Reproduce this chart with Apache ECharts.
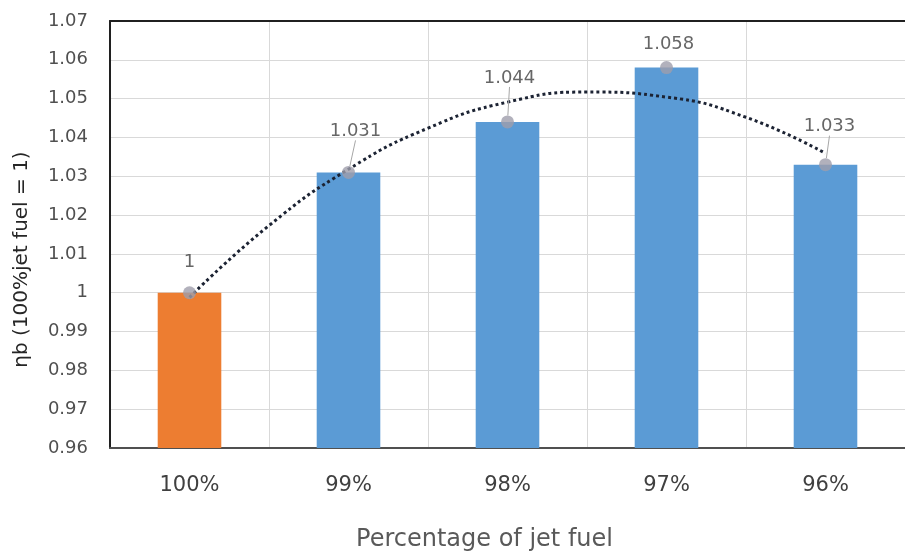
<!DOCTYPE html>
<html lang="en">
<head>
    <meta charset="UTF-8">
    <title>Combustion efficiency vs jet fuel share</title>
    <script src="https://cdn.jsdelivr.net/npm/echarts@6/dist/echarts.min.js"></script>
    <style>
        html, body { margin: 0; padding: 0; background: #fff; }
    </style>
</head>
<body>
<div id="chart" style="width: 905px;height:557px;"></div>
<script>
    // categories and bar values
    var categories = ['100%', '99%', '98%', '97%', '96%'];
    var etaValues = [1, 1.031, 1.044, 1.058, 1.033];
    var barColors = ['#ed7d31', '#5b9bd5', '#5b9bd5', '#5b9bd5', '#5b9bd5'];
    var yTicks = { min: 0.96, max: 1.07, step: 0.01 };

    // dotted trend line at half-category steps
    var trendX = [1, 1.5, 2, 2.5, 3, 3.5, 4, 4.5, 5];
    var trendY = [0.9988, 1.0173, 1.0318, 1.0424, 1.0491, 1.0517, 1.0504, 1.0452, 1.0359];

    var chart = echarts.init(document.getElementById('chart'));
    var font = 'DejaVu Sans';

    // label offsets (px) from the dot, so the numbers sit like in the original
    var labelOffsets = [[0, -30], [7, -41], [2, -44], [2, -23], [4, -38]];

    var option = {
        animation: false,
        grid: { left: 110, top: 21, width: 800, height: 428 },
        xAxis: [
            {
                type: 'category',
                data: categories,
                boundaryGap: true,
                axisLine: { lineStyle: { color: '#505050', width: 2 } },
                axisTick: { show: false },
                axisLabel: { fontFamily: font, fontSize: 21, color: '#404040', margin: 27 },
                splitLine: { show: true, lineStyle: { color: '#d9d9d9', width: 1 } },
                name: 'Percentage of jet fuel',
                nameLocation: 'middle',
                nameGap: 80,
                nameTextStyle: { fontFamily: font, fontSize: 24, color: '#595959', padding: [0, 46, 0, 0] }
            },
            {
                type: 'value',
                position: 'top',
                min: 0.5,
                max: 5.5,
                axisLine: { show: true, onZero: false, lineStyle: { color: '#202020', width: 2 } },
                axisTick: { show: false },
                axisLabel: { show: false },
                splitLine: { show: false }
            }
        ],
        yAxis: {
            type: 'value',
            min: yTicks.min,
            max: yTicks.max,
            interval: yTicks.step,
            axisLine: { show: true, lineStyle: { color: '#202020', width: 2 } },
            axisTick: { show: false },
            axisLabel: {
                fontFamily: font, fontSize: 18, color: '#505050', margin: 22,
                formatter: function (v) { return String(+v.toFixed(2)); }
            },
            splitLine: { lineStyle: { color: '#d9d9d9', width: 1 } },
            name: 'ηb (100%jet fuel = 1)',
            nameLocation: 'middle',
            nameRotate: 90,
            nameGap: 78,
            nameTextStyle: { fontFamily: font, fontSize: 20, color: '#262626', padding: [0, 50, 0, 0] }
        },
        series: [
            {
                type: 'bar',
                barWidth: '40%',
                data: etaValues.map(function (v, i) {
                    return { value: v, itemStyle: { color: barColors[i] } };
                })
            },
            {
                type: 'scatter',
                symbolSize: 13,
                itemStyle: { color: '#9f9dab' },
                z: 5,
                // leader lines only where the label sits far from its dot
                data: etaValues.map(function (v, i) {
                    return { value: v, labelLine: { show: labelOffsets[i][1] < -35 } };
                }),
                label: {
                    show: true,
                    fontFamily: font,
                    fontSize: 18,
                    color: '#404040',
                    position: 'inside'
                },
                labelLayout: function (p) {
                    var o = labelOffsets[p.dataIndex];
                    return { dx: o[0], dy: o[1] };
                },
                labelLine: { show: true, length2: 0, lineStyle: { color: '#a6a6a6', width: 1 } }
            },
            {
                type: 'line',
                xAxisIndex: 1,
                data: trendX.map(function (x, i) { return [x, trendY[i]]; }),
                smooth: true,
                symbol: 'none',
                z: 4,
                lineStyle: { color: '#1c2333', width: 3, type: [3, 3] }
            }
        ]
    };
    chart.setOption(option);
</script>
</body>
</html>
